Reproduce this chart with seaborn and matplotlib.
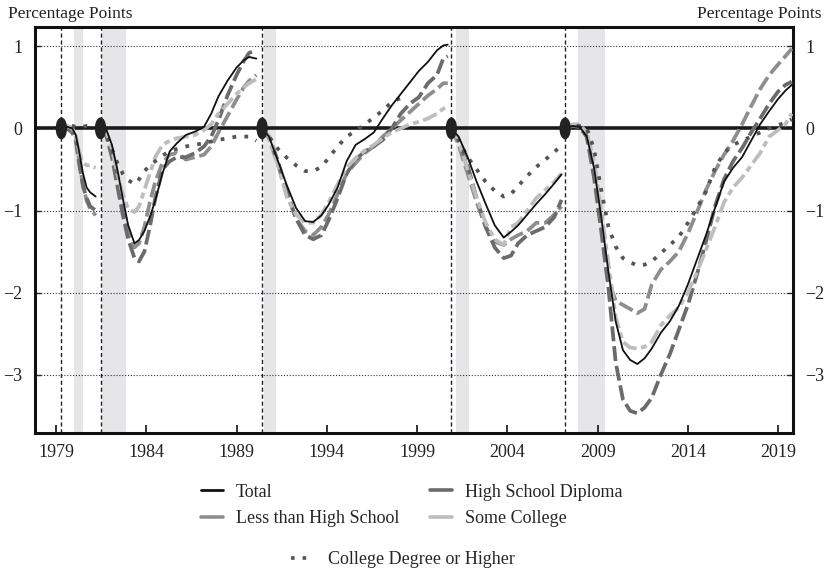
import numpy as np
import pandas as pd
import matplotlib
matplotlib.use("Agg")
import matplotlib.pyplot as plt
from matplotlib.lines import Line2D
from matplotlib.patches import Ellipse
import seaborn as sns

# Series names
series_names = ["Total", "Less than High School", "High School Diploma",
                "Some College", "College Degree or Higher"]

# Cycle start dates (dashed lines) and recessions (shaded)
cycle_starts = [1979.3, 1981.47, 1990.42, 2000.9, 2007.2]
recessions = [(1980.0, 1980.5), (1981.55, 1982.87), (1990.5, 1991.17),
              (2001.17, 2001.87), (2007.92, 2009.42)]

# Cycle 1
c1_years = [1979.3, 1979.6, 1979.9, 1980.1, 1980.3, 1980.5, 1980.7, 1980.9, 1981.2]
c1_total = [0, 0.02, 0, -0.08, -0.3, -0.55, -0.72, -0.78, -0.83]
c1_lths = [0, 0.03, 0.0, -0.1, -0.4, -0.7, -0.88, -0.98, -1.06]
c1_hs = [0, 0.0, -0.05, -0.15, -0.45, -0.7, -0.85, -0.95, -1.0]
c1_sc = [0, 0.03, 0.0, -0.1, -0.3, -0.42, -0.45, -0.45, -0.48]
c1_col = [0, 0.05, 0.03, 0.02, 0.03, 0.02, 0.03, 0.02, 0.03]

# Cycle 2
c2_years = [1981.47, 1981.8, 1982.1, 1982.4, 1982.7, 1983.0, 1983.35, 1983.6, 1983.9,
            1984.2, 1984.5, 1984.9, 1985.3, 1985.7, 1986.2, 1986.7, 1987.2, 1987.6,
            1988.0, 1988.5, 1989.0, 1989.4, 1989.7, 1990.1]
c2_total = [0, -0.02, -0.2, -0.5, -0.85, -1.18, -1.40, -1.36, -1.25, -1.08, -0.88, -0.55,
            -0.28, -0.18, -0.08, -0.04, 0.02, 0.18, 0.39, 0.58, 0.74, 0.83, 0.87, 0.85]
c2_lths = [0, -0.08, -0.3, -0.6, -0.95, -1.25, -1.45, -1.4, -1.2, -0.9, -0.65, -0.42,
           -0.32, -0.3, -0.38, -0.35, -0.32, -0.22, -0.05, 0.15, 0.35, 0.5, 0.58, 0.65]
c2_hs = [0, -0.1, -0.35, -0.7, -1.05, -1.35, -1.58, -1.62, -1.5, -1.2, -0.85, -0.5,
         -0.4, -0.35, -0.35, -0.3, -0.22, -0.1, 0.1, 0.4, 0.65, 0.82, 0.92, 0.95]
c2_sc = [0, -0.05, -0.25, -0.55, -0.8, -0.98, -1.02, -0.95, -0.75, -0.55, -0.35, -0.2,
         -0.15, -0.12, -0.1, -0.08, -0.02, 0.05, 0.18, 0.3, 0.42, 0.5, 0.55, 0.6]
c2_col = [0, -0.08, -0.25, -0.42, -0.55, -0.63, -0.68, -0.62, -0.52, -0.45, -0.4, -0.33,
          -0.28, -0.25, -0.22, -0.2, -0.18, -0.16, -0.14, -0.12, -0.1, -0.1, -0.1, -0.15]

# Cycle 3
c3_years = [1990.42, 1990.8, 1991.3, 1991.8, 1992.3, 1992.8, 1993.25, 1993.7, 1994.1,
            1994.6, 1995.1, 1995.6, 1996.1, 1996.6, 1997.1, 1997.6, 1998.1, 1998.6,
            1999.1, 1999.6, 2000.1, 2000.45, 2000.7]
c3_total = [0, -0.1, -0.4, -0.7, -0.97, -1.13, -1.14, -1.06, -0.93, -0.72, -0.4, -0.2,
            -0.13, -0.05, 0.12, 0.28, 0.42, 0.56, 0.7, 0.81, 0.95, 1.01, 1.02]
c3_lths = [0, -0.12, -0.45, -0.8, -1.1, -1.25, -1.3, -1.2, -1.05, -0.8, -0.55, -0.42,
           -0.3, -0.22, -0.1, 0.0, 0.1, 0.2, 0.3, 0.4, 0.48, 0.55, 0.55]
c3_hs = [0, -0.1, -0.4, -0.78, -1.1, -1.3, -1.35, -1.3, -1.12, -0.85, -0.55, -0.38,
         -0.28, -0.22, -0.14, 0.0, 0.18, 0.3, 0.38, 0.55, 0.65, 0.85, 0.88]
c3_sc = [0, -0.1, -0.45, -0.85, -1.05, -1.15, -1.15, -1.05, -0.9, -0.68, -0.48, -0.36,
         -0.27, -0.2, -0.12, -0.05, 0.0, 0.05, 0.08, 0.12, 0.18, 0.24, 0.26]
c3_col = [0, -0.1, -0.25, -0.36, -0.45, -0.52, -0.52, -0.47, -0.36, -0.22, -0.1, -0.03,
          0.05, 0.13, 0.22, 0.32, 0.37, np.nan, np.nan, np.nan, np.nan, np.nan, np.nan]

# Cycle 4
c4_years = [2000.9, 2001.3, 2001.8, 2002.3, 2002.8, 2003.3, 2003.8, 2004.2, 2004.6,
            2005.1, 2005.6, 2006.1, 2006.6, 2007.0]
c4_total = [0, -0.1, -0.35, -0.65, -0.92, -1.18, -1.33, -1.26, -1.18, -1.05, -0.92,
            -0.8, -0.67, -0.56]
c4_lths = [0, -0.2, -0.55, -0.9, -1.2, -1.38, -1.42, -1.35, -1.3, -1.25, -1.15,
           -1.15, -1.05, -0.95]
c4_hs = [0, -0.15, -0.45, -0.85, -1.2, -1.45, -1.58, -1.55, -1.4, -1.3, -1.25,
         -1.2, -1.08, -0.87]
c4_sc = [0, -0.15, -0.5, -0.85, -1.15, -1.35, -1.42, -1.2, -1.15, -1.0, -0.85,
         -0.75, -0.65, -0.55]
c4_col = [0, -0.15, -0.35, -0.5, -0.65, -0.76, -0.83, -0.8, -0.7, -0.58, -0.47,
          -0.38, -0.29, -0.2]

# Cycle 5
c5_years = [2007.2, 2007.6, 2008.0, 2008.4, 2008.8, 2009.2, 2009.6, 2010.0, 2010.4,
            2010.8, 2011.2, 2011.6, 2012.0, 2012.5, 2013.0, 2013.5, 2014.0, 2014.5,
            2015.0, 2015.5, 2016.0, 2016.5, 2017.0, 2017.5, 2018.0, 2018.5, 2019.0,
            2019.4, 2019.75]
c5_total = [0, 0.03, 0.02, -0.1, -0.48, -1.08, -1.75, -2.35, -2.7, -2.82, -2.87, -2.8,
            -2.68, -2.49, -2.35, -2.16, -1.9, -1.6, -1.3, -0.97, -0.65, -0.48, -0.35,
            -0.15, 0.05, 0.21, 0.36, 0.46, 0.53]
c5_lths = [0, 0.03, 0.02, -0.1, -0.5, -1.15, -1.85, -2.1, -2.15, -2.2, -2.25, -2.2,
           -1.9, -1.72, -1.62, -1.5, -1.28, -1.02, -0.75, -0.52, -0.32, -0.15, 0.05,
           0.27, 0.48, 0.65, 0.78, 0.88, 0.97]
c5_hs = [0, 0.03, 0.02, -0.1, -0.6, -1.25, -1.95, -2.85, -3.3, -3.44, -3.47, -3.4,
         -3.28, -3.0, -2.75, -2.45, -2.15, -1.78, -1.38, -0.95, -0.62, -0.4, -0.24,
         -0.05, 0.12, 0.3, 0.45, 0.53, 0.57]
c5_sc = [0, 0.05, 0.05, -0.05, -0.4, -1.0, -1.65, -2.3, -2.6, -2.67, -2.68, -2.66,
         -2.6, -2.4, -2.28, -2.18, -2.0, -1.75, -1.48, -1.2, -0.9, -0.72, -0.6, -0.45,
         -0.3, -0.1, -0.02, 0.05, 0.18]
c5_col = [0, 0.03, 0.03, 0.0, -0.25, -0.75, -1.2, -1.44, -1.58, -1.63, -1.67, -1.66,
          -1.62, -1.52, -1.42, -1.32, -1.15, -0.97, -0.77, -0.48, -0.3, -0.2, -0.15,
          -0.1, -0.05, 0.0, 0.04, 0.07, 0.11]

cycles = [
    (c1_years, [c1_total, c1_lths, c1_hs, c1_sc, c1_col]),
    (c2_years, [c2_total, c2_lths, c2_hs, c2_sc, c2_col]),
    (c3_years, [c3_total, c3_lths, c3_hs, c3_sc, c3_col]),
    (c4_years, [c4_total, c4_lths, c4_hs, c4_sc, c4_col]),
    (c5_years, [c5_total, c5_lths, c5_hs, c5_sc, c5_col]),
]

rows = []
for ci, (yrs, vals) in enumerate(cycles):
    for name, v in zip(series_names, vals):
        for x, y in zip(yrs, v):
            rows.append({"year": x, "value": y, "series": name, "cycle": ci})
df = pd.DataFrame(rows).dropna()

# styles
colors = {"Total": "#111111", "Less than High School": "#8e8e8e",
          "High School Diploma": "#6b6b6b", "Some College": "#bdbdbd",
          "College Degree or Higher": "#555555"}
styles = {"Total": "-", "Less than High School": (0, (4, 1.3)),
          "High School Diploma": (0, (4, 1.3)), "Some College": (0, (4, 1.2, 1.6, 1.2)),
          "College Degree or Higher": (0, (1, 2.2))}
widths = {"Total": 1.3, "Less than High School": 2.7, "High School Diploma": 2.7,
          "Some College": 2.7, "College Degree or Higher": 2.7}
draw_order = ["Less than High School", "High School Diploma", "Some College",
              "College Degree or Higher", "Total"]

sns.set_style("white")
plt.rcParams["font.family"] = ["Liberation Serif", "DejaVu Serif"]

fig = plt.figure(figsize=(8.28, 5.75), dpi=100)
ax = fig.add_axes([35 / 828, 1 - 433 / 575, 758 / 828, 406 / 575])

for a, b in recessions:
    ax.axvspan(a, b, color="#e6e6e8", lw=0, zorder=0)
for x in cycle_starts:
    ax.axvline(x, color="#222222", ls=(0, (3, 2)), lw=1.0, zorder=1)
for y in [1, -1, -2, -3]:
    ax.axhline(y, color="#333333", ls=(0, (1, 1.6)), lw=0.8, zorder=1)

for i, name in enumerate(draw_order):
    sub = df[df["series"] == name]
    sns.lineplot(data=sub, x="year", y="value", units="cycle", estimator=None,
                 color=colors[name], lw=widths[name], linestyle=styles[name],
                 ax=ax, zorder=3 + i, legend=False)

ax.axhline(0, color="#1a1a1a", lw=2.6, zorder=2)
for x in cycle_starts:
    ax.add_patch(Ellipse((x, 0), width=0.55, height=0.25, color="#222222", zorder=10))

ax.set_xlim(1977.84, 2019.82)
ax.set_ylim(-3.71, 1.235)
ax.set_xticks([1979, 1984, 1989, 1994, 1999, 2004, 2009, 2014, 2019])
ax.set_yticks([1, 0, -1, -2, -3])
ax.set_xlabel("")
ax.set_ylabel("")
ax.tick_params(axis="x", direction="in", length=6, width=1.3, labelsize=13, pad=8,
               bottom=True, top=False, colors="#222222")
ax.tick_params(axis="y", direction="in", length=4, width=1.0, labelsize=13, pad=9,
               left=True, right=True, labelleft=True, labelright=True, colors="#222222")
for sp in ax.spines.values():
    sp.set_linewidth(2.2)
    sp.set_color("#111111")

fig.text(8 / 828, 1 - 14 / 575, "Percentage Points", fontsize=12.5, va="center",
         ha="left", color="#222222")
fig.text(822 / 828, 1 - 14 / 575, "Percentage Points", fontsize=12.5, va="center",
         ha="right", color="#222222")

def handle(name, solid=True):
    return Line2D([], [], color=colors[name], lw=2.6 if name != "Total" else 2.0,
                  ls="-" if solid else (0, (1, 2.2)))

h1 = [handle("Total"), handle("Less than High School"),
      handle("High School Diploma"), handle("Some College")]
l1 = ["Total", "Less than High School", "High School Diploma", "Some College"]
fig.legend(h1, l1, ncol=2, loc="center", bbox_to_anchor=(0.497, 1 - 505.5 / 575),
           frameon=False, fontsize=13, handlelength=1.25, columnspacing=1.7,
           labelspacing=0.55, handletextpad=0.7, borderpad=0)
fig.legend([handle("College Degree or Higher", solid=False)], ["College Degree or Higher"],
           loc="center", bbox_to_anchor=(0.487, 1 - 560 / 575), frameon=False,
           fontsize=13, handlelength=1.25, handletextpad=0.8, borderpad=0)

fig.savefig("out.png", dpi=100)
